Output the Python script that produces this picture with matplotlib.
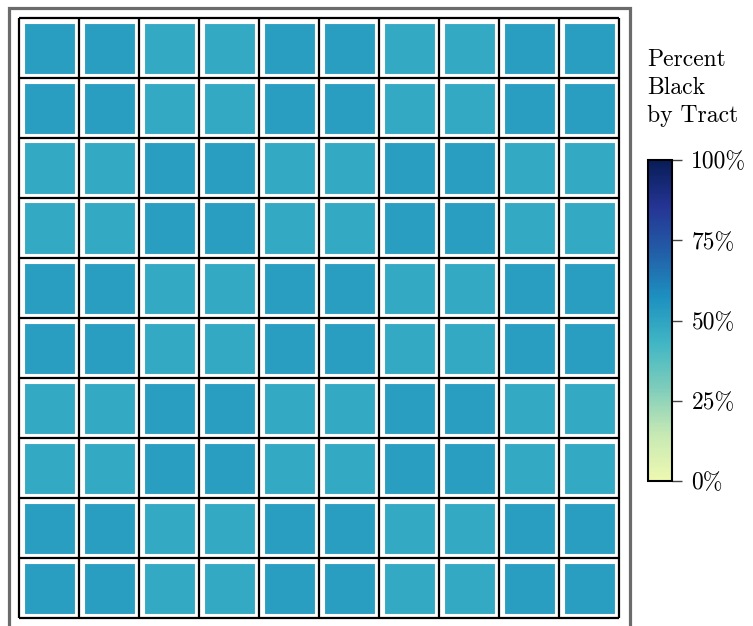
import matplotlib
matplotlib.use('Agg')
import matplotlib.pyplot as plt
import numpy as np
from matplotlib.colors import LinearSegmentedColormap, Normalize
from matplotlib.cm import ScalarMappable
from matplotlib.patches import Rectangle

plt.rcParams['font.family'] = 'cmr10'
plt.rcParams['mathtext.fontset'] = 'cm'
plt.rcParams['axes.formatter.use_mathtext'] = True

# percent black per tract, top row first
row_a = [52, 52, 48, 48, 52, 52, 48, 48, 52, 52]
row_b = [48, 48, 52, 52, 48, 48, 52, 52, 48, 48]
pct_black = [row_a, row_a, row_b, row_b, row_a, row_a, row_b, row_b, row_a, row_a]

cbar_ticks = [0, 25, 50, 75, 100]
cbar_labels = ['0%', '25%', '50%', '75%', '100%']
legend_title = 'Percent\nBlack\nby Tract'

base = plt.get_cmap('YlGnBu')
cmap = LinearSegmentedColormap.from_list('ylgnbu_cut', base(np.linspace(0.125, 1, 256)))
norm = Normalize(0, 100)

W, H = 753, 626
fig = plt.figure(figsize=(W / 100, H / 100), dpi=100)

# gray frame round the map
fig.patches.append(Rectangle((8.7 / W, -0.1), (630 - 8.7) / W, 1.1 - 7.5 / H,
                             transform=fig.transFigure, fill=False,
                             edgecolor='#6b6b6b', lw=2.3))

ax = fig.add_axes([19.3 / W, 7.7 / H, 600 / W, 600 / H])
ax.set_xlim(0, 10)
ax.set_ylim(10, 0)
ax.axis('off')

for i, row in enumerate(pct_black):
    for j, v in enumerate(row):
        ax.add_patch(Rectangle((j + 0.07, i + 0.07), 0.86, 0.86,
                               facecolor=cmap(norm(v)), edgecolor='white', lw=0.8))

ax.hlines(range(11), 0, 10, color='black', lw=1.6, clip_on=False)
ax.vlines(range(11), 0, 10, color='black', lw=1.6, clip_on=False)

# colour legend
cax = fig.add_axes([648 / W, 145 / H, 24 / W, 321 / H])
cb = fig.colorbar(ScalarMappable(norm=norm, cmap=cmap), cax=cax, ticks=cbar_ticks)
cb.set_ticklabels(cbar_labels)
cb.outline.set_linewidth(1.5)
cb.outline.set_edgecolor('black')
cax.tick_params(length=7, width=1, color='#444444', pad=7, labelsize=17)

fig.text(647 / W, 1 - 49 / H, legend_title, ha='left', va='top',
         fontsize=17, linespacing=1.33)

fig.savefig('out.png', dpi=100)
